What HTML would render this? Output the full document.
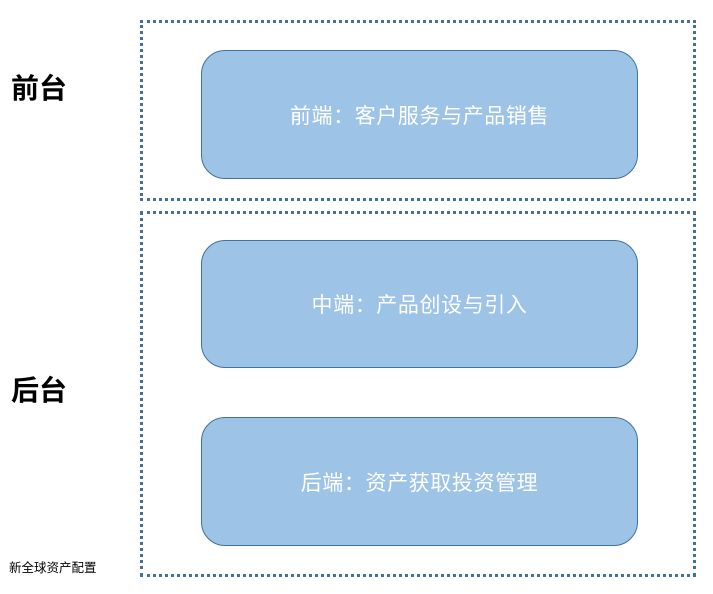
<!DOCTYPE html>
<html><head><meta charset="utf-8"><style>
body{margin:0;width:713px;height:594px;background:#fff;position:relative;overflow:hidden;font-family:"Liberation Sans","Noto Sans CJK SC",sans-serif}
.o{position:absolute;border:3px dotted #41719c;box-sizing:border-box}
.b{position:absolute;left:201px;width:437px;background:#9dc3e6;border:1px solid #41719c;border-radius:24px;box-sizing:border-box;color:#fff;font-size:21px;letter-spacing:0.6px;display:flex;align-items:center;justify-content:center}
.l{position:absolute;left:11px;font-size:28px;font-weight:bold;color:#000}
</style></head><body>
<div class="o" style="left:140px;top:20px;width:556px;height:181px"></div>
<div class="o" style="left:140px;top:211px;width:556px;height:366px"></div>
<div class="b" style="top:50px;height:129px">前端：客户服务与产品销售</div>
<div class="b" style="top:240px;height:128px">中端：产品创设与引入</div>
<div class="b" style="top:417px;height:129px">后端：资产获取投资管理</div>
<div class="l" style="top:67px">前台</div>
<div class="l" style="top:369px">后台</div>
<div style="position:absolute;left:9px;top:557px;font-size:12.5px">新全球资产配置</div>
</body></html>
